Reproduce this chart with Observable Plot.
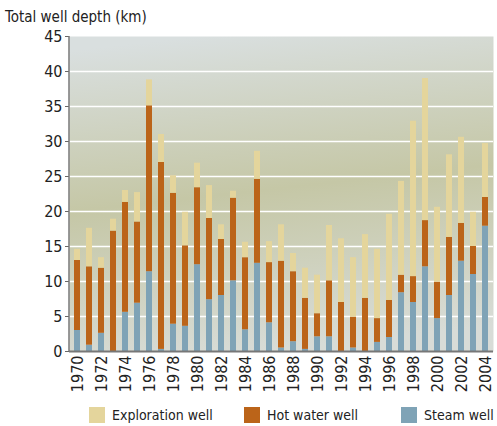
<!DOCTYPE html>
<html>
<head>
<meta charset="utf-8">
<script src="https://cdn.jsdelivr.net/npm/d3@7"></script>
<script src="https://cdn.jsdelivr.net/npm/@observablehq/plot@0.6"></script>
<style>
  body { margin: 0; background: #fff; font-family: "DejaVu Sans Condensed", "Liberation Sans Narrow", sans-serif; }
  #wrap { position: relative; width: 497px; height: 426px; overflow: hidden; }
  #title { position: absolute; left: 5px; top: 8px; font-size: 15px; color: #222; white-space: nowrap; }
  #chart { position: absolute; left: 0; top: 20px; }
  .leg { position: absolute; top: 406px; font-size: 14px; line-height: 18px; color: #222; display: flex; align-items: center; white-space: nowrap; }
  .sw { width: 16px; height: 16px; margin-right: 7px; }
</style>
</head>
<body>
<div id="wrap">
  <div id="title">Total well depth (km)</div>
  <div id="chart"></div>
  <div id="legend"></div>
</div>
<script>
const years = d3.range(1970, 2005);
// cumulative tops
const steam = [3.0,0.9,2.6,0,5.6,6.9,11.4,0.3,3.9,3.6,12.4,7.4,8.0,10.1,3.1,12.6,4.1,0.5,1.4,0.3,2.1,2.1,0,0.5,0,1.3,2.0,8.4,7.0,12.1,4.7,8.0,12.9,11.0,17.9];
const hotTop = [13.0,12.1,11.9,17.2,21.3,18.5,35.1,27.0,22.6,15.1,23.4,19.0,16.0,21.9,13.4,24.6,12.7,12.9,11.4,7.6,5.4,10.1,7.0,4.9,7.6,4.7,7.3,10.9,10.7,18.7,9.9,16.3,18.3,15.0,22.0];
const explTop = [14.6,17.6,13.4,18.9,23.0,22.7,38.8,31.0,25.1,19.9,26.9,23.7,18.1,22.9,15.6,28.6,15.7,18.1,14.0,11.9,10.9,18.0,16.1,13.4,16.7,14.6,19.6,24.3,32.9,39.0,20.6,28.1,30.6,19.9,29.7];
const seriesNames = ["Steam well", "Hot water well", "Exploration well"];
const colors = ["#7fa3b6", "#bb6419", "#e4d59c"];
const legendOrder = ["Exploration well", "Hot water well", "Steam well"];
const yTicks = d3.range(0, 50, 5);
const xTickYears = years.filter(y => y % 2 === 0);

const data = [];
years.forEach((yr, i) => {
  data.push({year: yr, series: seriesNames[0], value: steam[i]});
  data.push({year: yr, series: seriesNames[1], value: hotTop[i] - steam[i]});
  data.push({year: yr, series: seriesNames[2], value: explTop[i] - hotTop[i]});
});

const plot = Plot.plot({
  width: 497,
  height: 378,
  marginLeft: 69,
  marginRight: 4,
  marginTop: 16,
  marginBottom: 47,
  style: {fontFamily: '"DejaVu Sans Condensed", "Liberation Sans Narrow", sans-serif', fontSize: "16px", color: "#222", background: "transparent", overflow: "visible"},
  x: {type: "band", domain: years, paddingInner: 0.5, paddingOuter: 0.25, label: null},
  y: {domain: [0, 45], label: null},
  color: {domain: seriesNames, range: colors},
  marks: [
    Plot.frame({fill: "url(#bggrad)", stroke: null}),
    Plot.ruleY(yTicks.filter(t => t > 0 && t < 45), {stroke: "#fff", strokeWidth: 1.5}),
    Plot.barY(data, {x: "year", y: "value", fill: "series", order: seriesNames}),
    Plot.axisY({ticks: yTicks, tickSize: 4, tickPadding: 3, stroke: "#666", label: null}),
    Plot.axisX({ticks: xTickYears, tickFormat: d => String(d), tickSize: 0, tickPadding: 4, tickRotate: -90, label: null}),
    Plot.ruleY([0], {stroke: "#777", strokeWidth: 2})
  ]
});

// background gradient definition
const svgNS = "http://www.w3.org/2000/svg";
const defs = document.createElementNS(svgNS, "defs");
defs.innerHTML = `<linearGradient id="bggrad" x1="0.3" y1="0" x2="0.45" y2="1">
  <stop offset="0" stop-color="#d9dfdf"/>
  <stop offset="0.5" stop-color="#c5c7a6"/>
  <stop offset="1" stop-color="#d8dcd7"/>
</linearGradient>`;
plot.insertBefore(defs, plot.firstChild);

// left axis line
const yS = plot.scale("y");
const line = document.createElementNS(svgNS, "line");
line.setAttribute("x1", 69); line.setAttribute("x2", 69);
line.setAttribute("y1", yS.apply(45)); line.setAttribute("y2", yS.apply(0));
line.setAttribute("stroke", "#777"); line.setAttribute("stroke-width", "1.5");
plot.appendChild(line);

document.getElementById("chart").appendChild(plot);

const legendPos = [89, 244, 401];
const leg = document.getElementById("legend");
legendOrder.forEach((name, i) => {
  const d = document.createElement("div");
  d.className = "leg";
  d.style.left = legendPos[i] + "px";
  const sw = document.createElement("div");
  sw.className = "sw";
  sw.style.background = colors[seriesNames.indexOf(name)];
  d.appendChild(sw);
  d.appendChild(document.createTextNode(name));
  leg.appendChild(d);
});
</script>
</body>
</html>
